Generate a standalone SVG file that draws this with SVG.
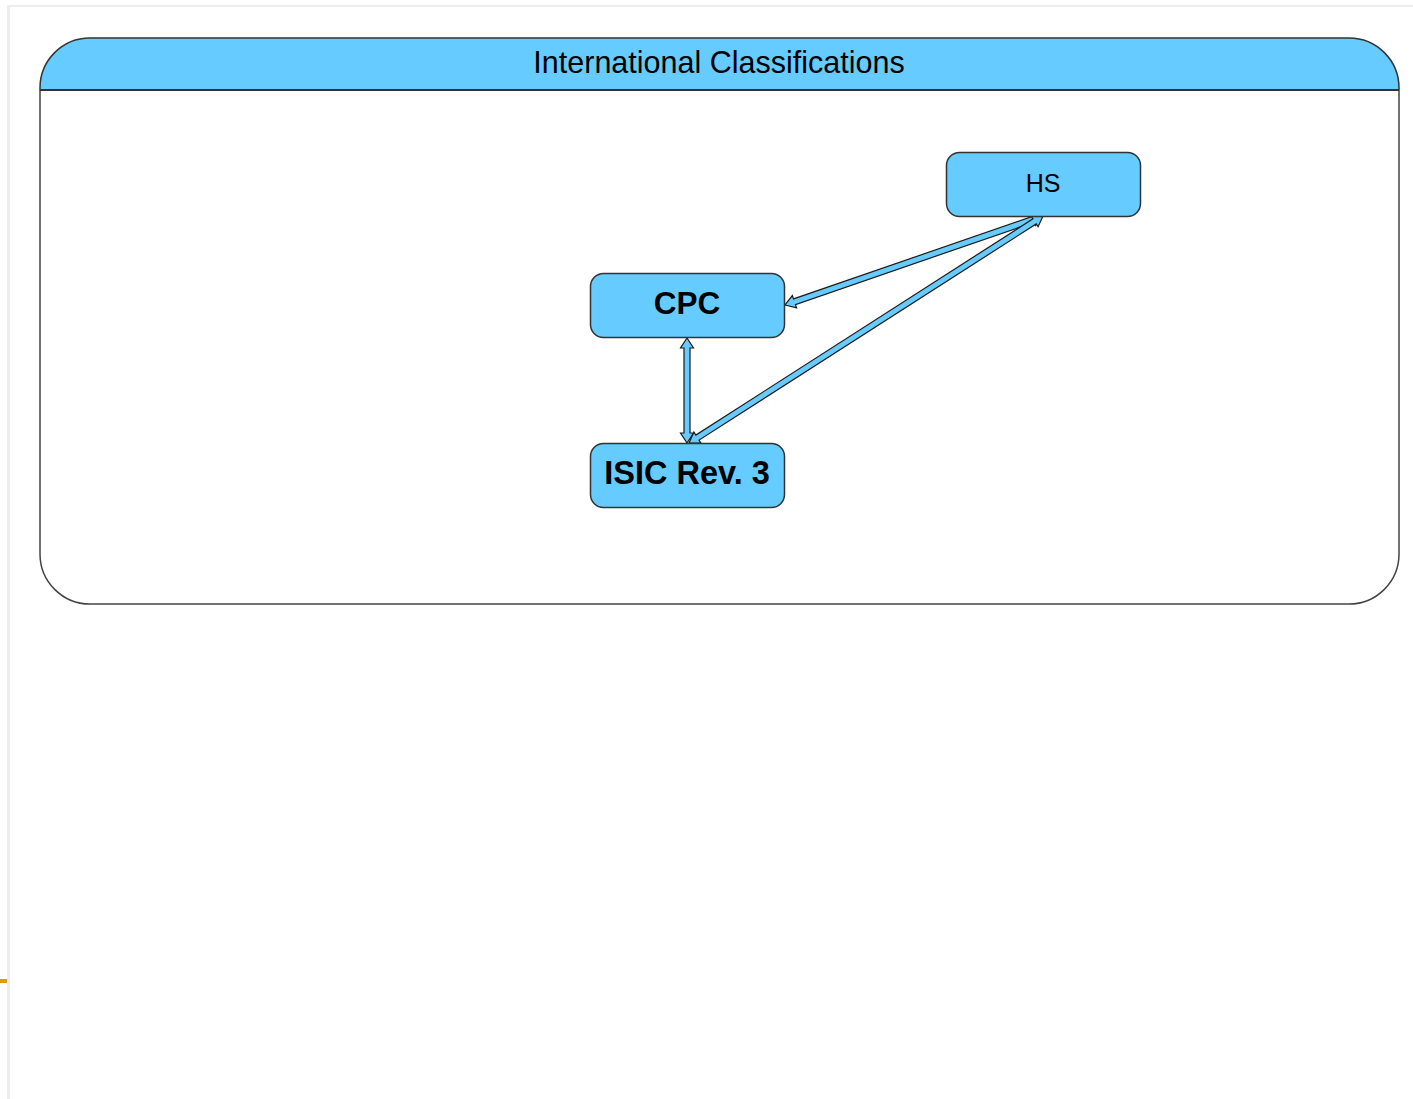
<svg xmlns="http://www.w3.org/2000/svg" width="1413" height="1099" viewBox="0 0 1413 1099">
  <style>
    .node { fill: #66CCFF; stroke: #333333; stroke-width: 1.5; }
    .arrow { fill: #66CCFF; stroke: #1a1a1a; stroke-width: 1.2; stroke-linejoin: miter; }
    .lbl { font-family: "Liberation Sans", Arial, sans-serif; fill: #000000; text-anchor: middle; }
  </style>
  <rect x="0" y="0" width="1413" height="1099" fill="#ffffff"/>
  <!-- page frame -->
  <rect x="7" y="5" width="1406" height="2" fill="#eeeeee"/>
  <rect x="7" y="5" width="3" height="1094" fill="#eeeeee"/>
  <rect x="0" y="979" width="7" height="4" fill="#d4a000"/>

  <g id="container">
    <path d="M40,90 L40,88 A50,50 0 0 1 90,38 L1349,38 A50,50 0 0 1 1399,88 L1399,90 Z" fill="#66CCFF"/>
    <path d="M40,90 L40,554 A50,50 0 0 0 90,604 L1349,604 A50,50 0 0 0 1399,554 L1399,90" fill="none" stroke="#444444" stroke-width="1.5"/>
    <path d="M40,90 L40,88 A50,50 0 0 1 90,38 L1349,38 A50,50 0 0 1 1399,88 L1399,90" fill="none" stroke="#333333" stroke-width="1.5"/>
    <line x1="40" y1="90" x2="1399" y2="90" stroke="#333333" stroke-width="2"/>
    <text class="lbl" x="719" y="73" font-size="30.5">International Classifications</text>
  </g>

  <g id="connectors">
    <g transform="translate(687,338) rotate(90)">
      <polygon class="arrow" points="0,0 10,-6.5 10,-3 95,-3 95,-6.5 105,0 95,6.5 95,3 10,3 10,6.5"/>
    </g>
    <g transform="translate(1043,216) rotate(160.97)">
      <polygon class="arrow" points="0,0 10,-6.5 10,-3 262.9,-3 262.9,-6.5 272.9,0 262.9,6.5 262.9,3 10,3 10,6.5"/>
    </g>
    <g transform="translate(1043,216) rotate(147.33)">
      <polygon class="arrow" points="0,0 10,-6.5 10,-3 410.5,-3 410.5,-6.5 420.5,0 410.5,6.5 410.5,3 10,3 10,6.5"/>
    </g>
  </g>

  <g id="node-hs">
    <rect class="node" x="946.5" y="152.5" width="194" height="64" rx="13"/>
    <text class="lbl" x="1043" y="192" font-size="25">HS</text>
  </g>
  <g id="node-cpc">
    <rect class="node" x="590.5" y="273.5" width="194" height="64" rx="13"/>
    <text class="lbl" x="687" y="314" font-size="31.5" font-weight="bold">CPC</text>
  </g>
  <g id="node-isic">
    <rect class="node" x="590.5" y="443.5" width="194" height="64" rx="13"/>
    <text class="lbl" x="687" y="484" font-size="32.5" font-weight="bold">ISIC Rev. 3</text>
  </g>
</svg>
